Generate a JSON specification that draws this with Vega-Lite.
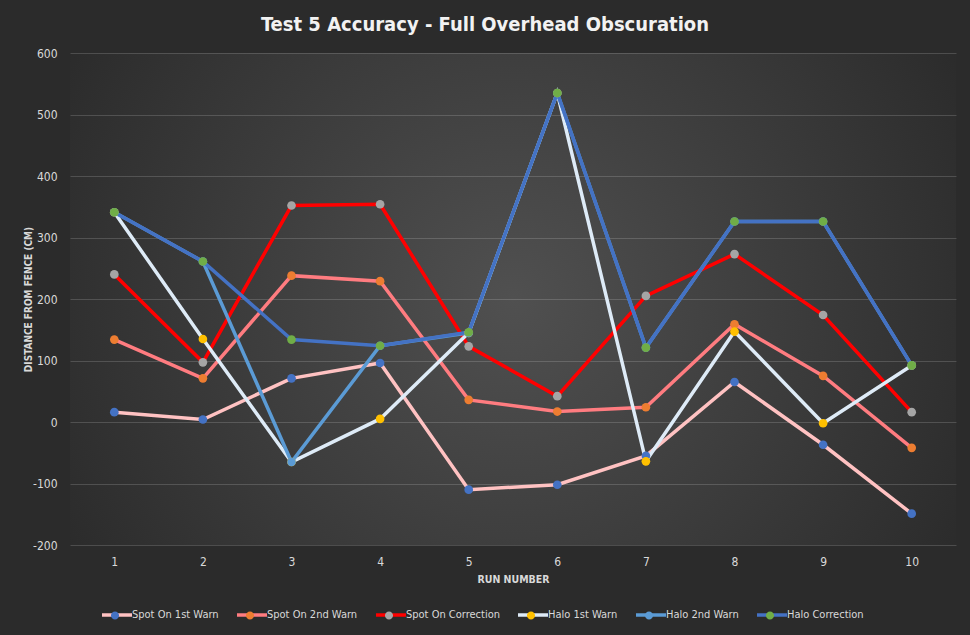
{
  "$schema": "https://vega.github.io/schema/vega-lite/v6.json",
  "width": 886,
  "height": 492,
  "autosize": {"type": "none"},
  "padding": {"left": 70, "top": 53, "right": 14, "bottom": 90},
  "background": "#2b2b2b",
  "title": {
    "text": "Test 5 Accuracy - Full Overhead Obscuration",
    "frame": "group",
    "anchor": "middle",
    "dx": -28,
    "offset": -4,
    "baseline": "alphabetic",
    "font": "Liberation Sans Narrow, DejaVu Sans Condensed, Roboto, sans-serif",
    "fontSize": 20,
    "fontWeight": "bold",
    "color": "#f2f2f2"
  },
  "config": {
    "view": {
      "stroke": null,
      "fill": {
        "gradient": "radial",
        "x1": 0.5, "y1": 0.5, "r1": 0,
        "x2": 0.5, "y2": 0.5, "r2": 0.58,
        "stops": [
          {"offset": 0, "color": "#505050"},
          {"offset": 1, "color": "#2b2b2b"}
        ]
      }
    },
    "font": "Liberation Sans Narrow, DejaVu Sans Condensed, Roboto, sans-serif"
  },
  "data": {
    "values": [
      {"run": 1, "series": "Spot On 1st Warn", "value": 16},
      {"run": 2, "series": "Spot On 1st Warn", "value": 4},
      {"run": 3, "series": "Spot On 1st Warn", "value": 71},
      {"run": 4, "series": "Spot On 1st Warn", "value": 96},
      {"run": 5, "series": "Spot On 1st Warn", "value": -110},
      {"run": 6, "series": "Spot On 1st Warn", "value": -102},
      {"run": 7, "series": "Spot On 1st Warn", "value": -55},
      {"run": 8, "series": "Spot On 1st Warn", "value": 65},
      {"run": 9, "series": "Spot On 1st Warn", "value": -37},
      {"run": 10, "series": "Spot On 1st Warn", "value": -149},
      {"run": 1, "series": "Spot On 2nd Warn", "value": 134},
      {"run": 2, "series": "Spot On 2nd Warn", "value": 71},
      {"run": 3, "series": "Spot On 2nd Warn", "value": 238},
      {"run": 4, "series": "Spot On 2nd Warn", "value": 229},
      {"run": 5, "series": "Spot On 2nd Warn", "value": 36},
      {"run": 6, "series": "Spot On 2nd Warn", "value": 17},
      {"run": 7, "series": "Spot On 2nd Warn", "value": 24},
      {"run": 8, "series": "Spot On 2nd Warn", "value": 159},
      {"run": 9, "series": "Spot On 2nd Warn", "value": 75},
      {"run": 10, "series": "Spot On 2nd Warn", "value": -42},
      {"run": 1, "series": "Spot On Correction", "value": 240},
      {"run": 2, "series": "Spot On Correction", "value": 97},
      {"run": 3, "series": "Spot On Correction", "value": 352},
      {"run": 4, "series": "Spot On Correction", "value": 354},
      {"run": 5, "series": "Spot On Correction", "value": 123},
      {"run": 6, "series": "Spot On Correction", "value": 42},
      {"run": 7, "series": "Spot On Correction", "value": 205},
      {"run": 8, "series": "Spot On Correction", "value": 273},
      {"run": 9, "series": "Spot On Correction", "value": 174},
      {"run": 10, "series": "Spot On Correction", "value": 16},
      {"run": 1, "series": "Halo 1st Warn", "value": 341},
      {"run": 2, "series": "Halo 1st Warn", "value": 135},
      {"run": 3, "series": "Halo 1st Warn", "value": -65},
      {"run": 4, "series": "Halo 1st Warn", "value": 5},
      {"run": 5, "series": "Halo 1st Warn", "value": 145},
      {"run": 6, "series": "Halo 1st Warn", "value": 535},
      {"run": 7, "series": "Halo 1st Warn", "value": -64},
      {"run": 8, "series": "Halo 1st Warn", "value": 147},
      {"run": 9, "series": "Halo 1st Warn", "value": -2},
      {"run": 10, "series": "Halo 1st Warn", "value": 92},
      {"run": 1, "series": "Halo 2nd Warn", "value": 341},
      {"run": 2, "series": "Halo 2nd Warn", "value": 261},
      {"run": 3, "series": "Halo 2nd Warn", "value": -65},
      {"run": 4, "series": "Halo 2nd Warn", "value": 124},
      {"run": 5, "series": "Halo 2nd Warn", "value": 145},
      {"run": 6, "series": "Halo 2nd Warn", "value": 535},
      {"run": 7, "series": "Halo 2nd Warn", "value": 121},
      {"run": 8, "series": "Halo 2nd Warn", "value": 326},
      {"run": 9, "series": "Halo 2nd Warn", "value": 326},
      {"run": 10, "series": "Halo 2nd Warn", "value": 92},
      {"run": 1, "series": "Halo Correction", "value": 341},
      {"run": 2, "series": "Halo Correction", "value": 261},
      {"run": 3, "series": "Halo Correction", "value": 134},
      {"run": 4, "series": "Halo Correction", "value": 124},
      {"run": 5, "series": "Halo Correction", "value": 146},
      {"run": 6, "series": "Halo Correction", "value": 535},
      {"run": 7, "series": "Halo Correction", "value": 121},
      {"run": 8, "series": "Halo Correction", "value": 326},
      {"run": 9, "series": "Halo Correction", "value": 326},
      {"run": 10, "series": "Halo Correction", "value": 92}
    ]
  },
  "encoding": {
    "x": {
      "field": "run",
      "type": "ordinal",
      "scale": {"type": "point", "padding": 0.5},
      "axis": {
        "title": "RUN NUMBER",
        "titleFontSize": 10.5,
        "titleFontWeight": "bold",
        "titleColor": "#d9d9d9",
        "titlePadding": 7,
        "labelAngle": 0,
        "labelFontSize": 12,
        "labelColor": "#d9d9d9",
        "labelPadding": 11,
        "domain": false,
        "ticks": false,
        "grid": false
      }
    },
    "y": {
      "field": "value",
      "type": "quantitative",
      "scale": {"domain": [-200, 600], "nice": false, "zero": false},
      "axis": {
        "title": "DISTANCE FROM FENCE (CM)",
        "titleFontSize": 10,
        "titleFontWeight": "bold",
        "titleColor": "#d9d9d9",
        "titlePadding": -1,
        "values": [-200, -100, 0, 100, 200, 300, 400, 500, 600],
        "labelExpr": "'' + datum.value",
        "labelFontSize": 12,
        "labelColor": "#d9d9d9",
        "labelPadding": 13,
        "domain": false,
        "ticks": false,
        "grid": true,
        "gridColor": "#ffffff",
        "gridOpacity": 0.16,
        "gridWidth": 1
      }
    }
  },
  "layer": [
    {
      "mark": {"type": "line", "strokeWidth": 3.5},
      "encoding": {
        "stroke": {
          "field": "series",
          "type": "nominal",
          "scale": {
            "domain": ["Spot On 1st Warn", "Spot On 2nd Warn", "Spot On Correction", "Halo 1st Warn", "Halo 2nd Warn", "Halo Correction"],
            "range": ["#ffc2c2", "#ff7c80", "#ff0000", "#deebf7", "#5b9bd5", "#4472c4"]
          },
          "legend": {
            "title": null,
            "orient": "none",
            "direction": "horizontal",
            "legendX": 30,
            "legendY": 545,
            "symbolType": "M-1,0L1,0",
            "symbolSize": 900,
            "symbolStrokeWidth": 3.5,
            "labelFontSize": 11,
            "labelColor": "#d9d9d9",
            "labelOffset": -2,
            "columnPadding": 11
          }
        },
        "detail": {"field": "series"}
      }
    },
    {
      "mark": {"type": "point", "filled": true, "size": 75, "opacity": 1, "shape": "circle"},
      "encoding": {
        "fill": {
          "field": "series",
          "type": "nominal",
          "sort": ["Spot On 1st Warn", "Spot On 2nd Warn", "Spot On Correction", "Halo 1st Warn", "Halo 2nd Warn", "Halo Correction"],
          "scale": {
            "range": ["#4472c4", "#ed7d31", "#a5a5a5", "#ffc000", "#5b9bd5", "#70ad47"]
          },
          "legend": {
            "title": null,
            "orient": "none",
            "direction": "horizontal",
            "legendX": 30,
            "legendY": 547.5,
            "symbolType": "M-1.117,0L1.117,0M-0.27,0A0.27,0.27,0,1,0,0.27,0A0.27,0.27,0,1,0,-0.27,0Z",
            "symbolSize": 900,
            "symbolStrokeWidth": 0,
            "labelFontSize": 11,
            "labelColor": "#d9d9d9",
            "labelOpacity": 0,
            "labelOffset": 3,
            "columnPadding": 13
          }
        }
      }
    }
  ]
}
